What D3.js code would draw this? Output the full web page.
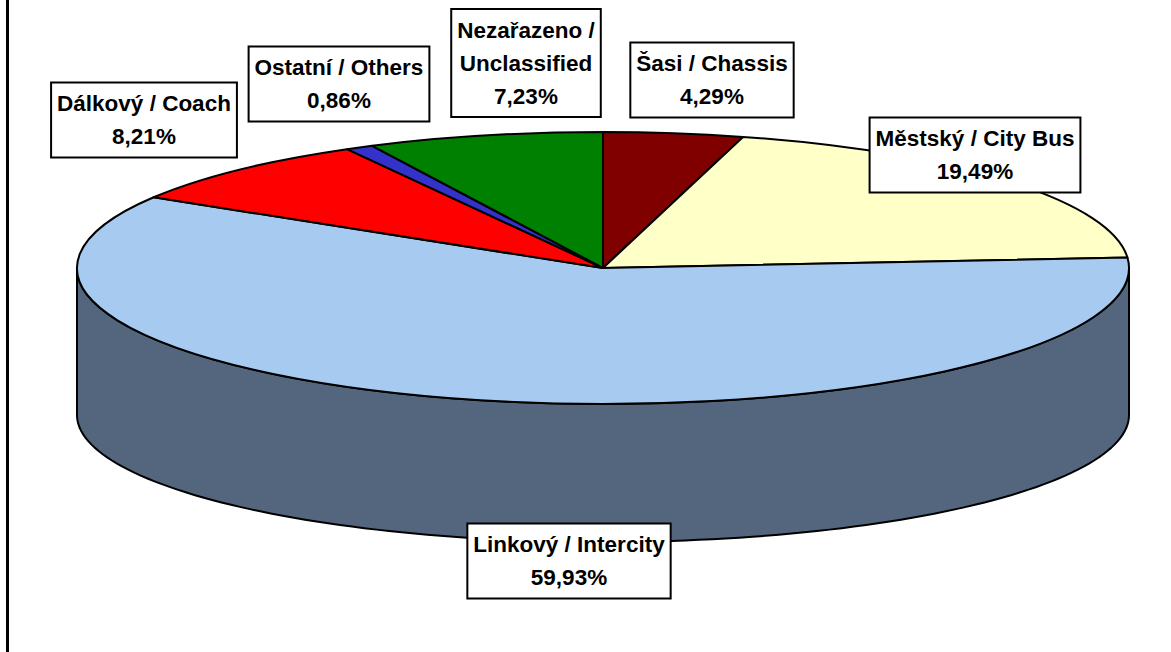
<!DOCTYPE html>
<html>
<head>
<meta charset="utf-8">
<script src="https://cdn.jsdelivr.net/npm/d3@7/dist/d3.min.js"></script>
<style>
  html, body { margin: 0; padding: 0; background: #ffffff; }
  svg { display: block; }
  text { font-family: "Liberation Sans", Arial, sans-serif; font-weight: bold; }
</style>
</head>
<body>
<svg id="chart" width="1171" height="652"></svg>
<script>
// Bus registrations by body type (share of total, %)
const categories = [
  ["Šasi / Chassis"],
  ["Městský / City Bus"],
  ["Linkový / Intercity"],
  ["Dálkový / Coach"],
  ["Ostatní / Others"],
  ["Nezařazeno /", "Unclassified"]
];
const values = [4.29, 19.49, 59.93, 8.21, 0.86, 7.23];
const topColors = ["#800000", "#FFFFC8", "#A6CAF0", "#FF0000", "#3333CC", "#008000"];
const sideColors = ["#400000", "#808064", "#53667D", "#800000", "#1A1A66", "#004000"];

// Label box centres (layout)
const labelCenters = [[712, 80], [975, 155], [569, 561], [144, 120], [339, 84], [526, 63]];

const svg = d3.select("#chart");
const W = 1171, H = 652;

// Pie geometry: top ellipse and the (slightly flatter) bottom rim
const cx = 603, cy = 268, rx = 526, ry = 136;
const cyBottom = 415, ryBottom = 127;

const pie = d3.pie().sort(null).value(d => d).startAngle(0).endAngle(2 * Math.PI);
const arcs = pie(values);

const topPt = a => [cx + rx * Math.sin(a), cy - ry * Math.cos(a)];
const botPt = a => [cx + rx * Math.sin(a), cyBottom - ryBottom * Math.cos(a)];

// Left edge of the chart frame
svg.append("line")
  .attr("x1", 7.5).attr("x2", 7.5).attr("y1", 0).attr("y2", H)
  .attr("stroke", "#000").attr("stroke-width", 3);

const line = d3.line();

// Front wall of each slice that faces the viewer (angles between 90° and 270°)
arcs.forEach((d, i) => {
  const a0 = Math.max(d.startAngle, Math.PI / 2);
  const a1 = Math.min(d.endAngle, 3 * Math.PI / 2);
  if (a1 <= a0) return;
  const n = 120;
  const ts = d3.range(n + 1).map(k => a0 + (a1 - a0) * k / n);
  const pts = ts.map(topPt).concat(ts.slice().reverse().map(botPt));
  svg.append("path")
    .attr("d", line(pts) + "Z")
    .attr("fill", sideColors[i])
    .attr("stroke", "#000")
    .attr("stroke-width", 2)
    .attr("stroke-linejoin", "round");
});

// Top faces
arcs.forEach((d, i) => {
  const p0 = topPt(d.startAngle), p1 = topPt(d.endAngle);
  const large = (d.endAngle - d.startAngle) > Math.PI ? 1 : 0;
  const path = `M${cx},${cy}L${p0[0]},${p0[1]}A${rx},${ry} 0 ${large} 1 ${p1[0]},${p1[1]}Z`;
  svg.append("path")
    .attr("d", path)
    .attr("fill", topColors[i])
    .attr("stroke", "#000")
    .attr("stroke-width", 2)
    .attr("stroke-linejoin", "round");
});

// Data labels: name + percentage in a white framed box
const fmt = v => v.toFixed(2).replace(".", ",") + "%";
const fontSize = 22.5, lineGap = 33;

arcs.forEach((d, i) => {
  const lines = categories[i].concat([fmt(values[i])]);
  const [lx, ly] = labelCenters[i];
  const g = svg.append("g");
  const rect = g.append("rect");
  const y0 = ly - (lines.length - 1) * lineGap / 2;
  const txt = g.selectAll("text").data(lines).join("text")
    .attr("x", lx)
    .attr("y", (t, k) => y0 + k * lineGap)
    .attr("text-anchor", "middle")
    .attr("dominant-baseline", "central")
    .attr("font-size", fontSize)
    .attr("fill", "#000")
    .text(t => t);
  let maxW = 0;
  txt.each(function () { maxW = Math.max(maxW, this.getComputedTextLength()); });
  const bw = maxW + 12, bh = (lines.length - 1) * lineGap + 42;
  rect.attr("x", lx - bw / 2).attr("y", ly - bh / 2)
    .attr("width", bw).attr("height", bh)
    .attr("fill", "#fff").attr("stroke", "#000").attr("stroke-width", 2);
});
</script>
</body>
</html>
